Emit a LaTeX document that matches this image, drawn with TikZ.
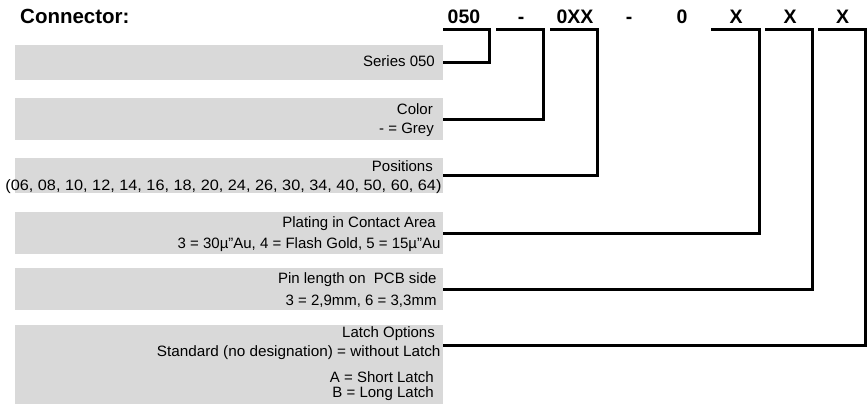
\documentclass[tikz,border=0pt]{standalone}
\usepackage{fontspec}
\setmainfont{Liberation Sans}
\definecolor{boxgray}{HTML}{D9D9D9}
\begin{document}
\begin{tikzpicture}[x=1pt,y=-1pt,
  box/.style={fill=boxgray, draw=none, anchor=north west, inner sep=0pt, minimum width=428pt},
  lbl/.style={anchor=base east, inner sep=0pt, font=\fontsize{15}{18}\selectfont},
  hdr/.style={anchor=base, inner sep=0pt, font=\fontsize{19.5}{22}\selectfont\bfseries},
  link/.style={line width=3pt, line join=miter, line cap=butt}]
\useasboundingbox (0,0) rectangle (867,404);
% boxes
\node[box, minimum height=34.5pt] (b1) at (15,45) {};
\node[box, minimum height=42pt] (b2) at (15,98) {};
\node[box, minimum height=35pt] (b3) at (15,158) {};
\node[box, minimum height=42pt] (b4) at (15,212) {};
\node[box, minimum height=42pt] (b5) at (15,268) {};
\node[box, minimum height=79pt] (b6) at (15,325) {};
% box texts
\node[lbl] (t1) at (435,66.7) {Series 050};
\node[lbl] (t2a) at (433,114.3) {Color};
\node[lbl] (t2b) at (434,133.3) {- = Grey};
\node[lbl] (t3a) at (433,171.7) {Positions};
\node[lbl] (t3b) at (441.7,190) {\scalebox{1.085}[1]{(06, 08, 10, 12, 14, 16, 18, 20, 24, 26, 30, 34, 40, 50, 60, 64)}};
\node[lbl] (t4a) at (436,227.7) {Plating in Contact Area};
\node[lbl] (t4b) at (440.7,248) {3 = 30µ"Au, 4 = Flash Gold, 5 = 15µ"Au};
\node[lbl] (t5a) at (436.7,283.3) {Pin length on\ \ PCB side};
\node[lbl] (t5b) at (436.7,305) {3 = 2,9mm, 6 = 3,3mm};
\node[lbl] (t6a) at (435,337.7) {Latch Options};
\node[lbl] (t6b) at (440.7,356.7) {\scalebox{1.02}[1]{Standard (no designation) = without Latch}};
\node[lbl] (t6c) at (434,382.7) {A = Short Latch};
\node[lbl] (t6d) at (434,397.3) {B = Long Latch};
% header
\node[hdr, anchor=base west, font=\fontsize{20.5}{22}\selectfont\bfseries] (title) at (20,23.3) {Connector:};
\node[hdr] (h1) at (464,24) {050};
\node[hdr] (h2) at (521,24) {-};
\node[hdr] (h3) at (575,24) {0XX};
\node[hdr] (h4) at (629,24) {-};
\node[hdr] (h5) at (682,24) {0};
\node[hdr] (h6) at (736,24) {X};
\node[hdr] (h7) at (790,24) {X};
\node[hdr] (h8) at (842.5,24) {X};
% underline coordinates
\coordinate (u1l) at (443,30);   \coordinate (u1r) at (489.5,30);
\coordinate (u2l) at (496,30);   \coordinate (u2r) at (543.5,30);
\coordinate (u3l) at (550,30);   \coordinate (u3r) at (597,30);
\coordinate (u4l) at (711,30);   \coordinate (u4r) at (759.5,30);
\coordinate (u5l) at (765,30);   \coordinate (u5r) at (812,30);
\coordinate (u6l) at (818,30);   \coordinate (u6r) at (865.6,30);
\coordinate (e6) at (443,345);
% connectors
\draw[link] (b1.east) -| (u1r) -- (u1l);
\draw[link] (b2.east) -| (u2r) -- (u2l);
\draw[link] (b3.east) -| (u3r) -- (u3l);
\draw[link] (b4.east) -| (u4r) -- (u4l);
\draw[link] (b5.east) -| (u5r) -- (u5l);
\draw[link] (e6) -| (u6r) -- (u6l);
\end{tikzpicture}
\end{document}
